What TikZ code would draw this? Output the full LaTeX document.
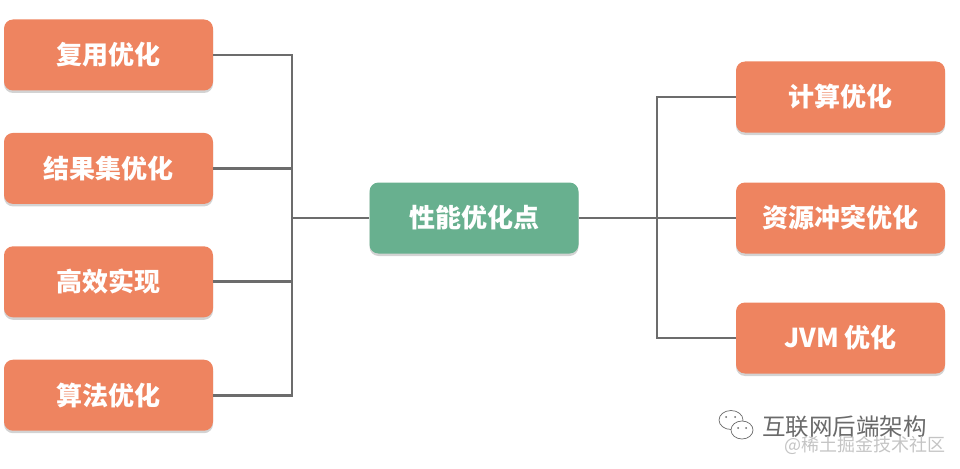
\documentclass[tikz,border=0pt]{standalone}
\usepackage{fontspec}
\setmainfont{Noto Sans CJK SC}
\usepackage{tikz}
\usetikzlibrary{positioning,shadows}
\definecolor{boxorange}{HTML}{EE8460}
\definecolor{boxgreen}{HTML}{68B08F}
\definecolor{linegray}{HTML}{6C6C6C}
\definecolor{markgray}{HTML}{6A6A6A}
\definecolor{marklight}{HTML}{C4C4C4}
\tikzset{
  leaf/.style={fill=boxorange, rounded corners=9pt, minimum width=209pt, minimum height=71pt,
    text=white, font=\fontsize{26}{28}\selectfont\bfseries,
    drop shadow={shadow xshift=0pt, shadow yshift=-2.5pt, opacity=0.35}},
  root/.style={leaf, fill=boxgreen},
  link/.style={linegray, line width=2.8pt}
}

\begin{document}
\begin{tikzpicture}[x=1pt,y=-1pt]
            \useasboundingbox (0,0) rectangle (960,468);
            % left branch
            \node[leaf] (reuse) at (108.5,55) {复用优化};
            \node[leaf, below = 42pt of reuse] (resultset) {结果集优化};
            \node[leaf, below = 42pt of resultset] (impl) {高效实现};
            \node[leaf, below = 42pt of impl] (algo) {算法优化};
            % centre
            \node[root] (core) at (474,218) {性能优化点};
            % right branch
            \node[leaf] (compute) at (840.5,97) {计算优化};
            \node[leaf] (resource) at (840.5,218) {资源冲突优化};
            \node[leaf] (jvm) at (840.5,338) {JVM 优化};

            \coordinate (ljoin) at (292,218);
            \coordinate (rjoin) at (657,218);
            \draw[link] (reuse.east) -| (ljoin);
            \draw[link] (algo.east) -| (ljoin);
            \draw[link] (resultset.east) -- (resultset.east -| ljoin);
            \draw[link] (impl.east) -- (impl.east -| ljoin);
            \draw[link] (ljoin) -- (core.west);
            \draw[link] (core.east) -- (rjoin);
            \draw[link] (rjoin) |- (compute.west);
            \draw[link] (rjoin) |- (jvm.west);
            \draw[link] (rjoin) -- (resource.west);

            % watermark
            \draw[markgray, line width=0.7pt, fill=white] (731,420) ellipse (12pt and 9.5pt);
            \draw[markgray, line width=0.7pt, fill=white] (742,430) ellipse (11pt and 9pt);
            \fill[markgray] (726,417) circle (1pt) (735,417) circle (1pt)
                            (738,428) circle (1pt) (746,428) circle (1pt);
            \node[anchor=base west, inner sep=0pt, text=markgray, font=\fontsize{23.5}{25}\selectfont] (mpname) at (762,435) {互联网后端架构};
            \node[anchor=base west, inner sep=0pt, text=marklight, font=\fontsize{18}{20}\selectfont] (mpsite) at (784,451) {@稀土掘金技术社区};
        \end{tikzpicture}
\end{document}
